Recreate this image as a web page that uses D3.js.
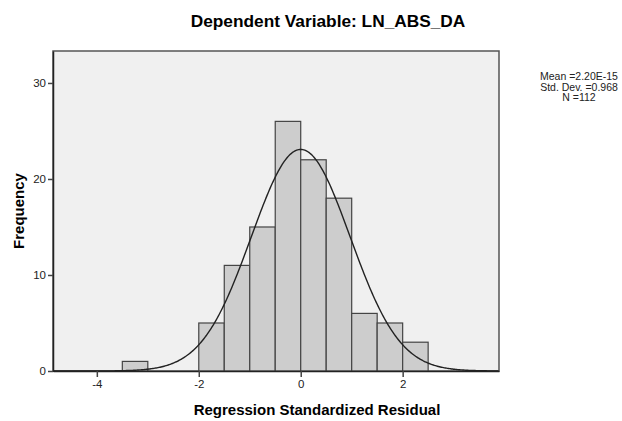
<!DOCTYPE html>
<html lang="en">
<head>
  <meta charset="UTF-8">
  <title>Histogram</title>
  <style>
    body { margin: 0; background: #fff; }
    text { font-family: "Liberation Sans", Arial, sans-serif; fill: #000; }
  </style>
</head>
<body>
  <div id="chart"></div>
  <script src="https://d3js.org/d3.v7.min.js"></script>
  <script>
    // histogram bins (lower edge) and counts
    var binStarts = [-3.5, -2.0, -1.5, -1.0, -0.5, 0.0, 0.5, 1.0, 1.5, 2.0];
    var binWidth = 0.5;
    var counts = [1, 5, 11, 15, 26, 22, 18, 6, 5, 3];
    var xTicks = [-4, -2, 0, 2];
    var yTicks = [0, 10, 20, 30];
    var stats = {mean: 2.20e-15, sd: 0.968, n: 112};
    var statLines = ["Mean =2.20E-15", "Std. Dev. =0.968", "N =112"];

    var width = 622, height = 421;
    var margin = {top: 51, right: 123, bottom: 50, left: 53};
    var w = width - margin.left - margin.right,
        h = height - margin.top - margin.bottom;

    var svg = d3.select("#chart")
      .append("svg")
      .attr("width", width)
      .attr("height", height);

    var g = svg.append("g")
      .attr("transform", "translate(" + margin.left + "," + margin.top + ")");

    var x = d3.scaleLinear().domain([-4.86, 3.89]).range([0, w]);
    var y = d3.scaleLinear().domain([0, 33.33]).range([h, 0]);

    // plot background
    g.append("rect")
      .attr("width", w)
      .attr("height", h)
      .style("fill", "#f0f0f0")
      .style("stroke", "#555")
      .style("stroke-width", 1.5);

    // bars
    var bars = binStarts.map(function(s, i) { return {x0: s, x1: s + binWidth, n: counts[i]}; });
    g.selectAll(".bar")
      .data(bars)
      .enter()
      .append("rect")
      .attr("class", "bar")
      .attr("x", function(d) { return x(d.x0); })
      .attr("y", function(d) { return y(d.n); })
      .attr("width", function(d) { return x(d.x1) - x(d.x0); })
      .attr("height", function(d) { return y(0) - y(d.n); })
      .style("fill", "#cdcdcd")
      .style("stroke", "#444")
      .style("stroke-width", 1.2);

    // normal curve
    var scaleN = stats.n * binWidth / (stats.sd * Math.sqrt(2 * Math.PI));
    var curvePts = d3.range(-4.86, 3.89, 0.02).map(function(v) {
      var z = (v - stats.mean) / stats.sd;
      return [v, scaleN * Math.exp(-0.5 * z * z)];
    });
    g.append("path")
      .datum(curvePts)
      .attr("d", d3.line().x(function(d) { return x(d[0]); }).y(function(d) { return y(d[1]); }))
      .style("fill", "none")
      .style("stroke", "#222")
      .style("stroke-width", 1.4);

    // axes
    var xAxis = g.append("g")
      .attr("transform", "translate(0," + h + ")")
      .call(d3.axisBottom(x).tickValues(xTicks).tickSizeInner(6).tickSizeOuter(0).tickPadding(3).tickFormat(d3.format("d")));
    var yAxis = g.append("g")
      .call(d3.axisLeft(y).tickValues(yTicks).tickSizeInner(5).tickSizeOuter(0).tickPadding(2));
    [xAxis, yAxis].forEach(function(a) {
      a.select(".domain").style("stroke", "#222").style("stroke-width", 1.5);
      a.selectAll(".tick line").style("stroke", "#444").style("stroke-width", 1.5);
      a.selectAll("text")
        .style("font-family", "'Liberation Sans', Arial, sans-serif")
        .style("font-size", "11.5px")
        .style("fill", "#222");
    });
    xAxis.selectAll(".tick text").text(function(d) { return d < 0 ? "-" + Math.abs(d) : d; });

    // title
    svg.append("text")
      .attr("x", 328)
      .attr("y", 27)
      .attr("text-anchor", "middle")
      .style("font-size", "17.3px")
      .style("font-weight", "bold")
      .text("Dependent Variable: LN_ABS_DA");

    // x axis title
    svg.append("text")
      .attr("x", 317)
      .attr("y", 415)
      .attr("text-anchor", "middle")
      .style("font-size", "15px")
      .style("font-weight", "bold")
      .text("Regression Standardized Residual");

    // y axis title
    svg.append("text")
      .attr("transform", "translate(24," + 211 + ") rotate(-90)")
      .attr("text-anchor", "middle")
      .style("font-size", "15px")
      .style("font-weight", "bold")
      .text("Frequency");

    // stats text
    svg.append("g")
      .selectAll("text")
      .data(statLines)
      .enter()
      .append("text")
      .attr("x", 579)
      .attr("y", function(d, i) { return 80 + i * 10.5; })
      .attr("text-anchor", "middle")
      .style("font-size", "10.5px")
      .style("fill", "#222")
      .text(function(d) { return d; });
  </script>
</body>
</html>
